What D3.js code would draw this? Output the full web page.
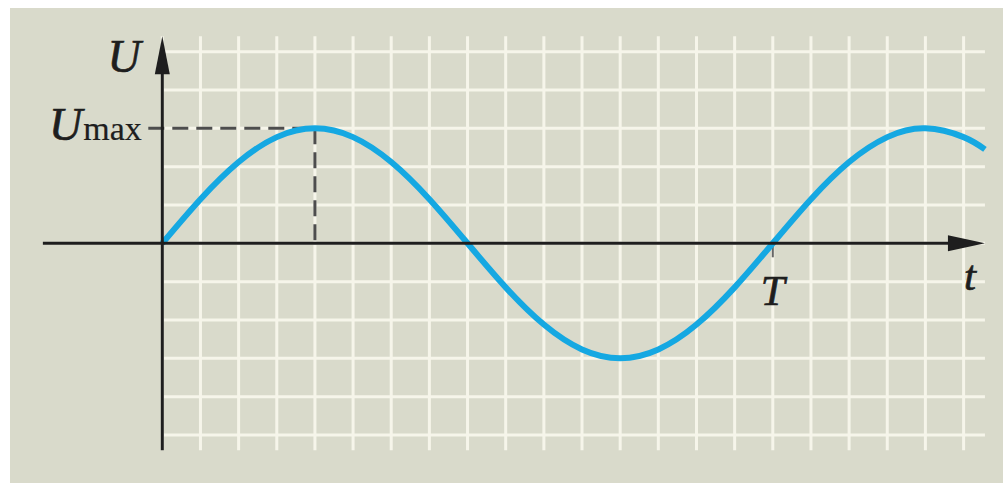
<!DOCTYPE html>
<html>
<head>
<meta charset="utf-8">
<script src="https://cdn.jsdelivr.net/npm/d3@7"></script>
<style>
  body { margin: 0; background: #fff; }
  svg { display: block; }
  text { font-family: "Liberation Serif", "DejaVu Serif", serif; fill: #1e1e1e; stroke: #1e1e1e; stroke-width: 0.7; }
</style>
</head>
<body>
<svg width="1003" height="483"></svg>
<script>
// curve samples: t in grid cells, U in grid cells (Umax = 3 cells, T = 16 cells)
var tCells = [0, 1, 2, 3, 4, 5, 6, 7, 8, 9, 10, 11, 12, 13, 14, 15, 16, 17, 18, 19, 20, 21, 21.56];
var uCells = [0, 1.15, 2.12, 2.77, 3, 2.77, 2.12, 1.15, 0, -1.15, -2.12, -2.77, -3, -2.77, -2.12, -1.15, 0, 1.15, 2.12, 2.77, 3, 2.77, 2.45];

// grid extents in cells
var gridCols = d3.range(0, 22);       // vertical grid lines
var gridRows = d3.range(-5, 6);       // horizontal grid lines
var gridRight = 21.56, gridTop = 5.4, gridBottom = -5.4;
var axisLeft = -3.13;

// marked values
var peakT = 4, peakU = 3, periodT = 16;
var labels = {u: "U", umax: "U", sub: "max", T: "T", t: "t"};

var svg = d3.select("svg");

// panel background
svg.append("rect")
    .attr("x", 10).attr("y", 8)
    .attr("width", 993).attr("height", 475)
    .attr("fill", "#d9dacb");

var x = d3.scaleLinear().domain([0, periodT]).range([162.3, 772.8]);
var y = d3.scaleLinear().domain([0, peakU]).range([243.3, 128.3]);

// grid
var grid = svg.append("g").attr("stroke", "#f6f5ea").attr("stroke-width", 3);
grid.selectAll(".v").data(gridCols).enter().append("line")
    .attr("x1", d => x(d)).attr("x2", d => x(d))
    .attr("y1", y(gridTop)).attr("y2", y(gridBottom));
grid.selectAll(".h").data(gridRows).enter().append("line")
    .attr("x1", x(0)).attr("x2", x(gridRight))
    .attr("y1", d => y(d)).attr("y2", d => y(d));

// dashed Umax guides
var dash = svg.append("g")
    .attr("stroke", "#4d4d4d").attr("stroke-width", 3)
    .attr("fill", "none");
dash.append("line")
    .attr("x1", x(0) - 14).attr("x2", x(peakT))
    .attr("y1", y(peakU)).attr("y2", y(peakU))
    .attr("stroke-dasharray", "16,8");
dash.append("line")
    .attr("x1", x(peakT)).attr("x2", x(peakT))
    .attr("y1", y(peakU)).attr("y2", y(0))
    .attr("stroke-dasharray", "16,8");

// T tick
svg.append("line")
    .attr("x1", x(periodT)).attr("x2", x(periodT))
    .attr("y1", y(0)).attr("y2", y(0) + 14)
    .attr("stroke", "#666").attr("stroke-width", 2);

// curve
var line = d3.line()
    .x((d, i) => x(d))
    .y((d, i) => y(uCells[i]))
    .curve(d3.curveNatural);
svg.append("path")
    .datum(tCells)
    .attr("d", line)
    .attr("fill", "none")
    .attr("stroke", "#15a8e2")
    .attr("stroke-width", 6);

// axes
var axes = svg.append("g").attr("stroke", "#1e1e1e").attr("stroke-width", 3);
axes.append("line")
    .attr("x1", x(axisLeft)).attr("x2", x(gridRight) - 30)
    .attr("y1", y(0)).attr("y2", y(0));
axes.append("line")
    .attr("x1", x(0)).attr("x2", x(0))
    .attr("y1", y(gridBottom)).attr("y2", y(gridTop) + 30);

// arrowheads
var tipX = x(gridRight), tipY = y(gridTop);
svg.append("path")
    .attr("d", "M" + tipX + "," + y(0) + "L" + (tipX - 37) + "," + (y(0) - 8) +
               "L" + (tipX - 37) + "," + (y(0) + 8) + "Z")
    .attr("fill", "#1e1e1e");
svg.append("path")
    .attr("d", "M" + x(0) + "," + tipY + "L" + (x(0) - 7.5) + "," + (tipY + 38) +
               "L" + (x(0) + 7.5) + "," + (tipY + 38) + "Z")
    .attr("fill", "#1e1e1e");

// labels
svg.append("text")
    .attr("x", 124).attr("y", 72)
    .attr("text-anchor", "middle")
    .attr("font-size", 46).attr("font-style", "italic")
    .text(labels.u);

var um = svg.append("text")
    .attr("x", 49).attr("y", 140)
    .attr("font-size", 46);
um.append("tspan").attr("font-style", "italic").text(labels.umax);
um.append("tspan").attr("font-size", 34).attr("dx", 1)
    .attr("stroke-width", 0.2).text(labels.sub);

svg.append("text")
    .attr("x", x(periodT)).attr("y", 305)
    .attr("text-anchor", "middle")
    .attr("font-size", 43).attr("font-style", "italic")
    .text(labels.T);

svg.append("text")
    .attr("x", 970).attr("y", 290)
    .attr("text-anchor", "middle")
    .attr("font-size", 43).attr("font-style", "italic")
    .text(labels.t);
</script>
</body>
</html>
